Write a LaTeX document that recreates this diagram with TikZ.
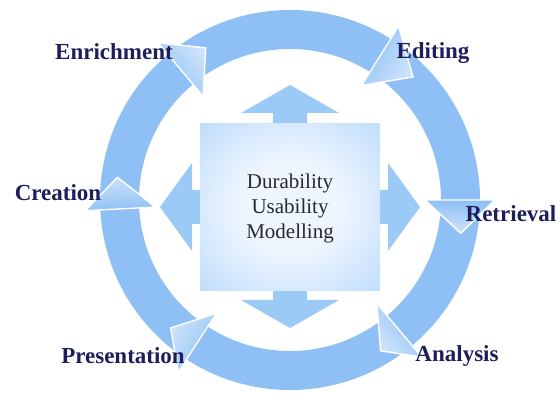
\documentclass[tikz,border=0pt]{standalone}
\usepackage{fontspec}
\setmainfont{Liberation Serif}

\definecolor{ringblue}{RGB}{142,192,245}
\definecolor{crossblue}{RGB}{155,202,247}
\definecolor{glowedge}{RGB}{162,205,250}
\definecolor{glowcenter}{RGB}{238,245,255}
\definecolor{labelnavy}{RGB}{30,30,92}
\definecolor{coretext}{RGB}{40,40,48}
\pgfdeclareradialshading{squareglow}{\pgfpoint{0bp}{0bp}}{color(0bp)=(glowcenter); color(14bp)=(glowcenter); color(50bp)=(glowedge)}

\tikzset{
  stage/.style={font=\fontsize{11.5}{14}\selectfont\bfseries, text=labelnavy},
  ringhead/.style={draw=white, line width=0.7pt, line join=miter, top color=ringblue!45!white, bottom color=ringblue},
}

\begin{document}
\begin{tikzpicture}[x=0.5pt, y=0.5pt]
    \useasboundingbox (0,0) rectangle (560,394);
    \pgfmathsetmacro{\rout}{190}
    \pgfmathsetmacro{\rin}{151}

    % outer cycle ring
    \fill[ringblue, even odd rule] (290,194) circle[radius=\rout] (290,194) circle[radius=\rin];

    % arrow heads on the ring, clockwise
    \begin{scope}[shift={(290,194)}]
        \shade[ringhead, shading angle=-50] (130:135) -- (119:174) -- (130:205) -- cycle;   % enrichment
        \shade[ringhead, shading angle=-122] (58:135) -- (45:174) -- (58:205) -- cycle;     % editing
        \shade[ringhead, shading angle=-180] (0:135) -- (-11:174) -- (0:205) -- cycle;      % retrieval
        \shade[ringhead, shading angle=130] (-50:135) -- (-59:176) -- (-50:205) -- cycle;   % analysis
        \shade[ringhead, shading angle=57] (-123:135) -- (-133:175) -- (-123:205) -- cycle; % presentation
        \shade[ringhead, shading angle=3] (183:135) -- (172.5:174) -- (183:205) -- cycle;   % creation
    \end{scope}

    % four way arrow behind the core box
    \begin{scope}[shift={(290,187)}]
        \fill[crossblue] (17,94) -- (49,94) -- (0,122) -- (-49,94) -- (-17,94) -- (-17,17)
            -- (-98,17) -- (-98,44) -- (-130,0) -- (-98,-44) -- (-98,-17) -- (-17,-17)
            -- (-17,-93) -- (-49,-93) -- (0,-121) -- (49,-93) -- (17,-93) -- (17,-17)
            -- (98,-17) -- (98,-44) -- (130,0) -- (98,44) -- (98,17) -- (17,17) -- cycle;
        \shade[shading=squareglow] (-90,-83.5) rectangle (90,83.5); % core box
    \end{scope}

    \node[font=\fontsize{10.5}{12.5}\selectfont, text=coretext, align=center] (core) at (290,186)
        {Durability\\Usability\\Modelling};

    % stage labels
    \node[stage] (enrich) at (114,342) {Enrichment};
    \node[stage] (edit) at (433,341) {Editing};
    \node[stage] (create) at (58,201) {Creation};
    \node[stage] (retrieve) at (511,180) {Retrieval};
    \node[stage] (present) at (123,38) {Presentation};
    \node[stage] (analyse) at (457,38) {Analysis};
\end{tikzpicture}
\end{document}
